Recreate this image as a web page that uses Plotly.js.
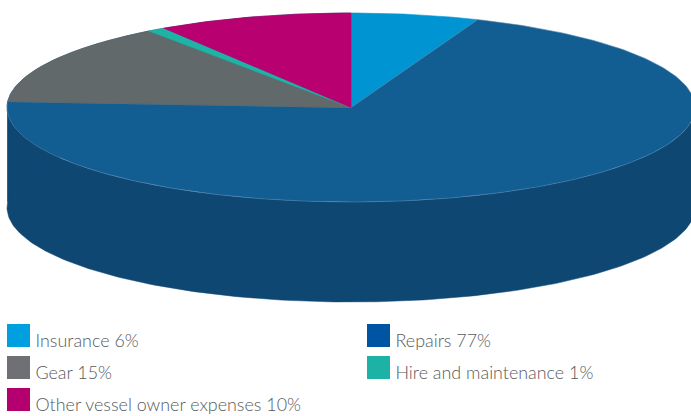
<!DOCTYPE html>
<html>
<head>
<meta charset="utf-8">
<script src="https://cdn.plot.ly/plotly-3.0.1.min.js"></script>
<style>html,body{margin:0;padding:0;background:#fff}#chart{width:691px;height:416px}</style>
</head>
<body>
<div id="chart"></div>
<script>
// Data: categories, printed percentages, and the shares the slices occupy in the picture
const categories = ['Insurance', 'Repairs', 'Gear', 'Hire and maintenance', 'Other vessel owner expenses'];
const printedPercent = [6, 77, 15, 1, 10];
const drawnShare = [6, 70, 14, 0.85, 9.15];

// Styles
const topColors = ['#0094d2', '#125e93', '#62696b', '#1fb3a5', '#b80071'];
const edgeColors = ['#0094d2', '#4f86ad', '#62696b', '#1fb3a5', '#b80071'];
const legendColors = ['#009fdf', '#0054a4', '#6f7075', '#1eb1a5', '#b4006e'];
const wallColor = '#0f4773';
const wallEdge = '#0f4773';

// Layout of the tilted disc and the legend, in axis units (axes are mapped 1:1 to the frame)
const cx = 351, cy = 107.5, rx = 344, ry = 94.5, depth = 100;
const legendX = [18.5, 378.5, 18.5, 378.5, 18.5];
const legendY = [335.5, 335.5, 367.5, 367.5, 399.5];
const labelOffsetX = 17, labelOffsetY = 7;

const rim = (deg, dy) => {
  const r = deg * Math.PI / 180;
  return [cx + rx * Math.sin(r), cy - ry * Math.cos(r) + dy];
};
const arc = (from, to, dy) => {
  const pts = [], n = Math.max(2, Math.ceil(Math.abs(to - from)));
  for (let i = 0; i <= n; i++) pts.push(rim(from + (to - from) * i / n, dy));
  return pts;
};

const total = drawnShare.reduce((a, b) => a + b, 0);
const traces = [];
let start = 0;
const spans = drawnShare.map(v => {
  const s = [start, start + v / total * 360];
  start = s[1];
  return s;
});

// Side wall: the part of each slice's rim that faces the viewer
spans.forEach((s) => {
  const a = Math.max(s[0], 90), b = s[1];
  if (b <= a) return;
  const pts = arc(a, b, 0).concat(arc(b, a, depth));
  pts.push(pts[0]);
  traces.push({
    type: 'scatter', mode: 'lines', x: pts.map(p => p[0]), y: pts.map(p => p[1]),
    fill: 'toself', fillcolor: wallColor, line: {color: wallEdge, width: 0.5},
    hoverinfo: 'skip', showlegend: false
  });
});

// Top faces
spans.forEach((s, i) => {
  const pts = [[cx, cy]].concat(arc(s[0], s[1], 0));
  pts.push([cx, cy]);
  traces.push({
    type: 'scatter', mode: 'lines', x: pts.map(p => p[0]), y: pts.map(p => p[1]),
    fill: 'toself', fillcolor: topColors[i], line: {color: edgeColors[i], width: 0.6},
    name: categories[i], text: categories[i] + ' ' + printedPercent[i] + '%', hoverinfo: 'text',
    showlegend: false
  });
});

// Legend as swatches and labels
traces.push({
  type: 'scatter', mode: 'markers', x: legendX, y: legendY,
  marker: {symbol: 'square', size: 23, color: legendColors, line: {width: 0}},
  hoverinfo: 'skip', showlegend: false, cliponaxis: false
});
traces.push({
  type: 'scatter', mode: 'text',
  x: legendX.map(v => v + labelOffsetX), y: legendY.map(v => v + labelOffsetY),
  text: categories.map((c, i) => c + ' ' + printedPercent[i] + '%'),
  textposition: 'middle right',
  textfont: {family: 'Lato, sans-serif', size: 17.9, color: '#58595b', weight: 300},
  hoverinfo: 'skip', showlegend: false, cliponaxis: false
});

const layout = {
  width: 691, height: 416,
  margin: {l: 0, r: 0, t: 0, b: 0},
  paper_bgcolor: '#ffffff', plot_bgcolor: '#ffffff',
  xaxis: {range: [0, 691], visible: false, fixedrange: true},
  yaxis: {range: [416, 0], visible: false, fixedrange: true},
  showlegend: false
};
Plotly.newPlot('chart', traces, layout, {displayModeBar: false, staticPlot: true});
</script>
</body>
</html>
